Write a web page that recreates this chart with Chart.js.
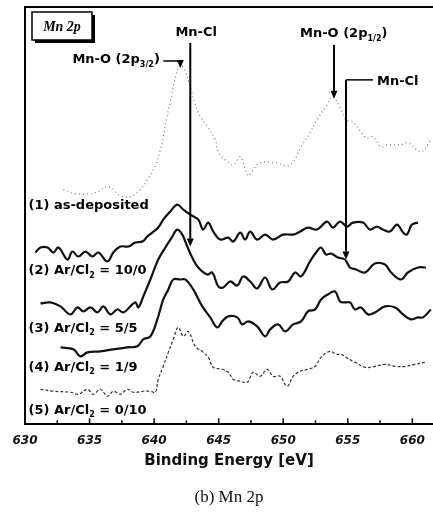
<!DOCTYPE html>
<html>
<head>
<meta charset="utf-8">
<title>Mn 2p</title>
<script src="https://cdn.jsdelivr.net/npm/chart.js@4.4.1/dist/chart.umd.min.js"></script>
<style>
    html, body { margin: 0; padding: 0; background: #fff; }
    #wrap { position: relative; width: 433px; height: 528px; }
</style>
</head>
<body>
<div id="wrap"><canvas id="mn2p"></canvas></div>
<script>
"use strict";
// ==============================================================
// Mn 2p spectra (binding energy [eV] vs. intensity, arb. units)
// ==============================================================

// (1) as-deposited
const energyAsDep = [632.98, 633.9, 635.45, 636.46, 637.39, 638.16, 638.93, 639.47, 640.09, 640.48, 640.71, 640.94, 641.25, 641.64, 642.03, 642.41, 642.8, 643.42, 644.19, 644.73, 644.97, 645.51, 646.13, 646.67, 646.9, 647.29, 647.67, 648.21, 649.37, 650.53, 651.38, 652.07, 652.69, 653.31, 653.85, 654.48, 654.86, 655.4, 656.41, 656.95, 657.57, 658.11, 659.12, 659.66, 660.67, 661.43];
const intensityAsDep = [235, 231, 232, 238, 229, 228, 235, 245, 259, 275, 288, 305, 323, 347, 360, 353, 338, 312, 297, 285, 273, 265, 260, 268, 262, 249, 255, 262, 262, 260, 278, 292, 307, 318, 328, 315, 305, 303, 287, 288, 278, 280, 280, 282, 273, 285];

// (2) Ar/Cl2 = 10/0
const energy10to0 = [630.81, 631.2, 631.74, 632.2, 632.59, 633.29, 633.67, 634.14, 634.68, 635.22, 635.68, 636.38, 636.84, 637.39, 638.0, 638.55, 639.09, 639.47, 639.86, 640.32, 640.71, 641.25, 641.79, 642.26, 642.8, 643.42, 643.8, 644.19, 644.58, 645.12, 645.74, 646.13, 646.67, 647.05, 647.44, 647.98, 648.6, 649.22, 649.99, 650.77, 651.31, 651.92, 652.62, 653.39, 653.85, 654.4, 654.94, 655.4, 656.18, 656.72, 657.26, 657.72, 658.27, 658.81, 659.28, 659.58, 659.97, 660.43];
const intensity10to0 = [172, 177, 177, 172, 177, 165, 173, 168, 173, 168, 172, 163, 172, 178, 178, 182, 183, 188, 192, 197, 205, 213, 220, 215, 210, 205, 195, 202, 193, 185, 187, 183, 192, 185, 193, 185, 190, 185, 190, 190, 193, 197, 195, 203, 197, 203, 198, 202, 202, 195, 198, 195, 193, 200, 192, 190, 200, 202];

// (3) Ar/Cl2 = 5/5
const energy5to5 = [631.2, 631.97, 632.75, 633.52, 634.06, 634.52, 635.07, 635.61, 636.07, 636.61, 637.15, 637.62, 638.16, 638.55, 638.78, 639.16, 639.71, 640.32, 640.87, 641.41, 641.79, 642.18, 642.57, 642.95, 643.42, 644.11, 644.5, 644.97, 645.35, 645.89, 646.44, 646.9, 647.44, 647.98, 648.6, 649.14, 649.76, 650.38, 650.92, 651.38, 652.07, 652.54, 652.93, 653.31, 653.7, 654.24, 654.78, 655.17, 655.64, 656.33, 657.1, 657.88, 658.35, 659.12, 659.66, 660.43, 661.05];
const intensity5to5 = [121, 122, 118, 110, 117, 113, 117, 112, 118, 110, 115, 112, 118, 122, 117, 128, 145, 165, 177, 188, 195, 190, 178, 167, 157, 150, 152, 138, 137, 143, 139, 148, 143, 136, 147, 135, 142, 143, 152, 148, 163, 172, 177, 170, 171, 167, 165, 157, 155, 152, 161, 160, 152, 145, 152, 157, 157];

// (4) Ar/Cl2 = 1/9
const energy1to9 = [632.75, 633.75, 634.29, 634.83, 635.84, 636.84, 637.93, 638.7, 639.16, 639.71, 640.25, 640.71, 641.1, 641.48, 642.03, 642.41, 643.03, 643.73, 644.35, 644.89, 645.27, 645.74, 646.44, 646.82, 647.29, 647.98, 648.6, 648.99, 649.61, 650.15, 650.77, 651.38, 651.92, 652.47, 652.93, 653.46, 654.01, 654.4, 654.78, 655.17, 655.56, 656.02, 656.56, 657.1, 657.88, 658.66, 659.28, 659.89, 660.43, 660.82, 661.43];
const intensity1to9 = [77, 75, 68, 72, 73, 75, 77, 78, 85, 88, 105, 125, 135, 145, 145, 145, 135, 118, 107, 97, 103, 108, 107, 100, 103, 98, 88, 95, 100, 93, 100, 103, 113, 115, 125, 130, 133, 123, 122, 122, 115, 117, 110, 112, 118, 117, 110, 105, 107, 107, 115];

// (5) Ar/Cl2 = 0/10
const energy0to10 = [631.2, 632.2, 633.52, 634.14, 634.83, 635.3, 635.84, 636.38, 636.84, 637.39, 637.93, 638.39, 639.16, 639.71, 640.09, 640.32, 640.71, 641.1, 641.48, 641.87, 642.26, 642.64, 643.19, 643.73, 644.19, 644.58, 645.27, 645.74, 646.13, 646.67, 647.21, 647.67, 648.21, 648.75, 649.22, 649.76, 650.3, 650.77, 651.31, 651.92, 652.47, 652.93, 653.62, 654.09, 654.48, 654.86, 655.56, 656.33, 657.1, 657.88, 658.66, 659.43, 660.2, 660.97];
const intensity0to10 = [35, 33, 32, 30, 35, 30, 35, 28, 33, 30, 35, 32, 33, 33, 32, 45, 58, 72, 85, 97, 88, 93, 78, 73, 67, 57, 55, 52, 45, 43, 42, 52, 48, 55, 48, 48, 38, 48, 53, 55, 58, 67, 73, 70, 70, 67, 62, 57, 58, 60, 58, 58, 60, 62];

const xMin = 630, xMax = 661.6;
const FONT = '"DejaVu Sans", "Liberation Sans", sans-serif';

function toPoints(xs, ys) {
    return xs.map((v, i) => ({ x: v, y: ys[i] }));
}

// text with subscript parts, e.g. [['Ar/Cl'], ['2', true]]
function richText(ctx, parts, x, y, size) {
    let cx = x;
    for (const [t, sub] of parts) {
        let s = sub ? Math.round(size * 0.62) : size;
        ctx.font = 'bold ' + s + 'px ' + FONT;
        ctx.fillText(t, cx, sub ? y + size * 0.38 : y);
        cx += ctx.measureText(t).width;
    }
}

function arrowDown(ctx, x, y) {
    ctx.beginPath();
    ctx.moveTo(x, y);
    ctx.lineTo(x - 3.5, y - 8);
    ctx.lineTo(x + 3.5, y - 8);
    ctx.closePath();
    ctx.fill();
}

// frame, inside ticks and all the labels / arrows
const decorations = {
    id: 'decorations',
    afterDatasetsDraw(chart) {
        const { ctx, chartArea: a, scales: { x, y } } = chart;
        const px = v => x.getPixelForValue(v);
        const py = v => y.getPixelForValue(v);
        ctx.save();
        ctx.strokeStyle = '#000';
        ctx.fillStyle = '#000';
        ctx.lineWidth = 2;
        ctx.beginPath();
        ctx.moveTo(a.left, a.bottom);
        ctx.lineTo(a.left, a.top);
        ctx.lineTo(a.right, a.top);
        ctx.stroke();

        ctx.lineWidth = 1.5;
        for (let k = 1; k <= 12; k++) {
            let xp = px(xMin + 2.5 * k);
            let len = (k % 2 === 0) ? 6 : 4;
            ctx.beginPath();
            ctx.moveTo(xp, a.bottom);
            ctx.lineTo(xp, a.bottom - len);
            ctx.stroke();
        }

        // "Mn 2p" box with shadow
        let bx = a.left + 7, by = a.top + 5, bw = 60, bh = 28;
        ctx.fillRect(bx + 3, by + 3, bw, bh);
        ctx.fillStyle = '#fff';
        ctx.fillRect(bx, by, bw, bh);
        ctx.fillStyle = '#000';
        ctx.lineWidth = 1.5;
        ctx.strokeRect(bx, by, bw, bh);
        ctx.font = 'italic bold 14px "Liberation Serif", serif';
        ctx.textAlign = 'center';
        ctx.textBaseline = 'middle';
        ctx.fillText('Mn 2p', bx + bw / 2, by + bh / 2 + 1);

        // sample labels
        ctx.textAlign = 'left';
        const lx = px(630.27);
        richText(ctx, [['(1) as-deposited']], lx, py(219), 13);
        richText(ctx, [['(2) Ar/Cl'], ['2', true], [' = 10/0']], lx, py(154), 13);
        richText(ctx, [['(3) Ar/Cl'], ['2', true], [' = 5/5']], lx, py(96), 13);
        richText(ctx, [['(4) Ar/Cl'], ['2', true], [' = 1/9']], lx, py(57), 13);
        richText(ctx, [['(5) Ar/Cl'], ['2', true], [' = 0/10']], lx, py(14), 13);

        // Mn-O (2p3/2)
        ctx.lineWidth = 1.5;
        richText(ctx, [['Mn-O (2p'], ['3/2', true], [')']], px(633.67), py(365), 13);
        ctx.beginPath();
        ctx.moveTo(px(640.71), py(364));
        ctx.lineTo(px(642.03), py(364));
        ctx.lineTo(px(642.03), py(362));
        ctx.stroke();
        arrowDown(ctx, px(642.03), py(357));

        // Mn-Cl (left)
        ctx.lineWidth = 2;
        ctx.textAlign = 'center';
        richText(ctx, [['Mn-Cl']], px(643.26), py(392), 13);
        ctx.beginPath();
        ctx.moveTo(px(642.8), py(382));
        ctx.lineTo(px(642.8), py(186));
        ctx.stroke();
        arrowDown(ctx, px(642.8), py(178));

        // Mn-O (2p1/2)
        ctx.textAlign = 'left';
        richText(ctx, [['Mn-O (2p'], ['1/2', true], [')']], px(651.3), py(391), 13);
        ctx.beginPath();
        ctx.moveTo(px(653.93), py(380));
        ctx.lineTo(px(653.93), py(334));
        ctx.stroke();
        arrowDown(ctx, px(653.93), py(326));

        // Mn-Cl (right)
        richText(ctx, [['Mn-Cl']], px(657.26), py(343), 13);
        ctx.lineWidth = 1.5;
        ctx.beginPath();
        ctx.moveTo(px(656.95), py(345));
        ctx.lineTo(px(654.86), py(345));
        ctx.stroke();
        ctx.lineWidth = 2;
        ctx.beginPath();
        ctx.moveTo(px(654.86), py(345));
        ctx.lineTo(px(654.86), py(173));
        ctx.stroke();
        arrowDown(ctx, px(654.86), py(165));
        ctx.restore();
    }
};

const solid = { borderColor: '#111', borderWidth: 2.2, tension: 0.4, pointRadius: 0 };

new Chart(document.getElementById('mn2p').getContext('2d'), {
    type: 'line',
    data: {
        datasets: [
            { label: '(1) as-deposited', data: toPoints(energyAsDep, intensityAsDep),
              borderColor: '#777', borderWidth: 1.2, borderDash: [1, 3], tension: 0.4, pointRadius: 0 },
            Object.assign({ label: '(2) Ar/Cl2 = 10/0', data: toPoints(energy10to0, intensity10to0) }, solid),
            Object.assign({ label: '(3) Ar/Cl2 = 5/5', data: toPoints(energy5to5, intensity5to5) }, solid),
            Object.assign({ label: '(4) Ar/Cl2 = 1/9', data: toPoints(energy1to9, intensity1to9) }, solid),
            { label: '(5) Ar/Cl2 = 0/10', data: toPoints(energy0to10, intensity0to10),
              borderColor: '#333', borderWidth: 1.2, borderDash: [3, 2], tension: 0.4, pointRadius: 0 }
        ]
    },
    options: {
        responsive: true,
        maintainAspectRatio: false,
        animation: false,
        layout: { padding: { left: 25, top: 7, right: 0, bottom: 3 } },
        plugins: {
            legend: { display: false },
            tooltip: { enabled: false },
            title: {
                display: true,
                position: 'bottom',
                text: '(b) Mn 2p',
                color: '#111',
                font: { family: '"Liberation Serif", serif', size: 17, weight: 'normal' },
                padding: { top: 15, bottom: 17 }
            }
        },
        scales: {
            x: {
                type: 'linear',
                min: xMin,
                max: xMax,
                border: { display: true, color: '#000', width: 2 },
                grid: { display: true, drawOnChartArea: false, drawTicks: true, tickLength: 6, tickColor: 'rgba(0,0,0,0)' },
                ticks: {
                    stepSize: 5,
                    includeBounds: false,
                    maxRotation: 0,
                    padding: 3,
                    color: '#111',
                    font: { family: FONT, size: 12, weight: 'bold', style: 'italic' }
                },
                title: {
                    display: true,
                    text: 'Binding Energy [eV]',
                    color: '#111',
                    font: { family: FONT, size: 15, weight: 'bold' },
                    padding: { top: 2, bottom: 2 }
                }
            },
            y: { display: false, min: 0, max: 418 }
        }
    },
    plugins: [decorations]
});
</script>
</body>
</html>
